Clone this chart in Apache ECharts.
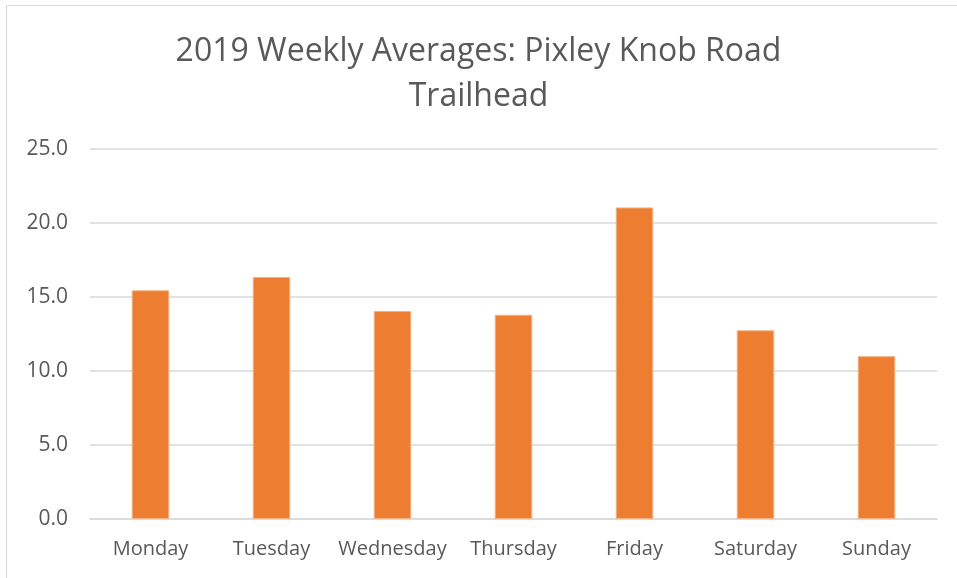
<!DOCTYPE html>
<html>
<head>
<meta charset="utf-8">
<script src="https://cdn.jsdelivr.net/npm/echarts@6/dist/echarts.min.js"></script>
<style>
  html, body { margin: 0; padding: 0; background: #fff; }
  #chart { width: 957px; height: 578px; }
</style>
</head>
<body>
<div id="chart"></div>
<script>
// data
const days = ["Monday", "Tuesday", "Wednesday", "Thursday", "Friday", "Saturday", "Sunday"];
const averages = [15.45, 16.35, 14.05, 13.8, 21.05, 12.75, 11.0];
const titleText = "2019 Weekly Averages: Pixley Knob Road\nTrailhead";

const chart = echarts.init(document.getElementById("chart"));
const font = "'Open Sans', sans-serif";

chart.setOption({
  animation: false,
  backgroundColor: "#fff",
  graphic: [{
    type: "rect",
    shape: { x: 6.5, y: 5.5, width: 1000, height: 1000 },
    style: { fill: "none", stroke: "#d9d9d9", lineWidth: 1 },
    silent: true
  }],
  title: {
    text: titleText,
    left: "center",
    top: 24,
    textStyle: {
      fontFamily: font,
      fontSize: 32,
      fontWeight: "normal",
      color: "#595959",
      lineHeight: 45
    }
  },
  grid: { left: 90, right: 20, top: 149, bottom: 59 },
  xAxis: {
    type: "category",
    data: days,
    axisLine: { lineStyle: { color: "#d9d9d9", width: 1.5 } },
    axisTick: { show: false },
    axisLabel: { interval: 0, color: "#595959", fontFamily: font, fontSize: 20, margin: 20 }
  },
  yAxis: {
    type: "value",
    min: 0,
    max: 25,
    interval: 5,
    axisLine: { show: false },
    axisTick: { show: false },
    splitLine: { lineStyle: { color: "#d9d9d9", width: 1.5 } },
    axisLabel: {
      color: "#595959",
      fontFamily: font,
      fontSize: 21,
      margin: 22,
      formatter: v => v.toFixed(1)
    }
  },
  series: [{
    type: "bar",
    data: averages,
    barWidth: "31%",
    itemStyle: { color: "#ED7D31", borderColor: "#F4B183", borderWidth: 1 }
  }]
});
</script>
</body>
</html>
